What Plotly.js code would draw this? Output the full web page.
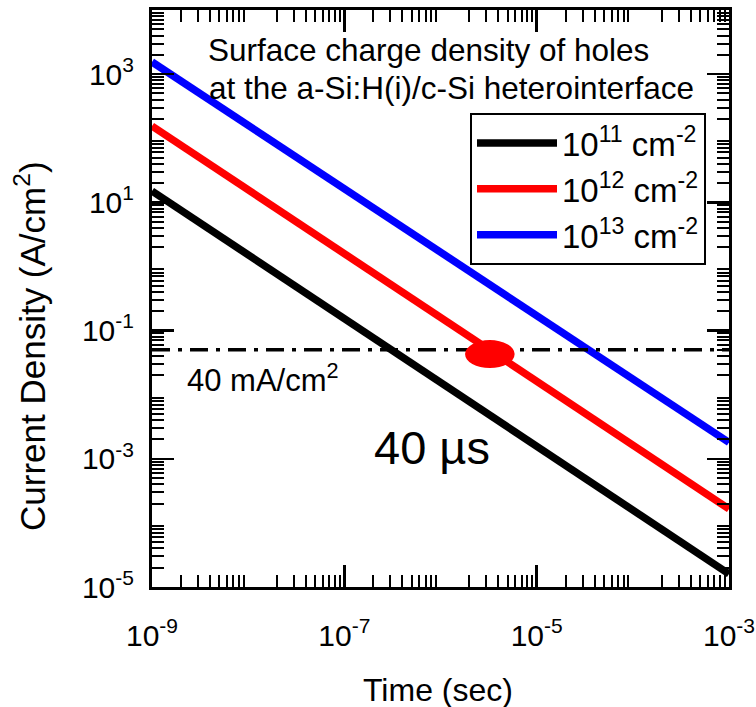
<!DOCTYPE html>
<html>
<head>
<meta charset="utf-8">
<script src="https://cdn.plot.ly/plotly-3.0.1.min.js"></script>
<style>html,body{margin:0;padding:0;background:#fff;}#chart{width:756px;height:707px;}</style>
</head>
<body>
<div id="chart"></div>
<script>
// ---- data ----
const timeSec = [1e-9, 1e-3];
const jHoles1e11 = [15, 1.6e-5];
const jHoles1e12 = [155, 1.65e-4];
const jHoles1e13 = [1550, 1.8e-3];
const seriesNames = ['10<sup>11</sup> cm<sup>-2</sup>', '10<sup>12</sup> cm<sup>-2</sup>', '10<sup>13</sup> cm<sup>-2</sup>'];
const seriesColors = ['#000000', '#ff0000', '#0000ff'];
const thresholdTime = [1e-9, 1e-3];
const thresholdJ = [0.05, 0.05];
const markTimeSpan = [1.8e-6, 5.9e-6];
const markJSpan = [0.026, 0.071];
const xLabelExp = [-9, -7, -5, -3];
const xOtherExp = [-8, -6, -4];
const yLabelExp = [-5, -3, -1, 1, 3];
const yOtherExp = [-4, -2, 0, 2, 4];
const xDecades = [-9, -8, -7, -6, -5, -4, -3];
const yDecades = [-5, -4, -3, -2, -1, 0, 1, 2, 3, 4];

const FONT = 'Liberation Sans, Arial, sans-serif';

const pow10 = exps => exps.map(e => Math.pow(10, e));
const supText = exps => exps.map(e => '10<sup>' + e + '</sup>');
function minorVals(exps) {
  const out = [];
  for (let i = 0; i < exps.length - 1; i++) for (let m = 2; m <= 9; m++) out.push(m * Math.pow(10, exps[i]));
  return out;
}

const allJ = [jHoles1e11, jHoles1e12, jHoles1e13];
const traces = allJ.map((y, i) => ({
  x: timeSec, y: y, type: 'scatter', mode: 'lines', name: seriesNames[i],
  legendgroup: 'g' + i,
  line: {color: seriesColors[i], width: 7.5}
}));
traces.push({
  x: thresholdTime, y: thresholdJ, type: 'scatter', mode: 'lines', showlegend: false,
  line: {color: '#000', width: 3.5, dash: '18px,8px,4px,8px'}
});

function mainAxis(labelExp, decades, range) {
  return {
    type: 'log', range: range, showgrid: false, zeroline: false,
    showline: true, linewidth: 3, linecolor: '#000', mirror: 'allticks',
    ticks: 'inside', ticklen: 22, tickwidth: 2.5, tickcolor: '#000',
    tickmode: 'array', tickvals: pow10(labelExp), ticktext: supText(labelExp),
    tickfont: {family: FONT, size: 30, color: '#000'},
    minor: {tickmode: 'array', tickvals: minorVals(decades), ticks: 'inside', ticklen: 12, tickwidth: 2, tickcolor: '#000', showgrid: false}
  };
}
function overlayAxis(otherExp, range, overlay, anchor, side) {
  return {
    type: 'log', range: range, overlaying: overlay, anchor: anchor, side: side,
    showgrid: false, zeroline: false, showline: false, mirror: 'allticks',
    ticks: 'inside', ticklen: 22, tickwidth: 2.5, tickcolor: '#000',
    tickmode: 'array', tickvals: pow10(otherExp), showticklabels: false
  };
}

const L = 152, R = 729, T = 10, B = 587;
const px = x => (x - L) / (R - L);
const py = y => (B - y) / (B - T);

const xa = mainAxis(xLabelExp, xDecades, [-9, -3]);
xa.ticklabelstandoff = 20;
const ya = mainAxis(yLabelExp, yDecades, [-5, 4]);
ya.ticklabelstandoff = 9;

const layout = {
  width: 756, height: 707,
  margin: {l: L, r: 756 - R, t: T, b: 707 - B},
  paper_bgcolor: '#fff', plot_bgcolor: '#fff',
  font: {family: FONT, color: '#000'},
  xaxis: xa,
  yaxis: ya,
  xaxis2: overlayAxis(xOtherExp, [-9, -3], 'x', 'y', 'bottom'),
  yaxis2: overlayAxis(yOtherExp, [-5, 4], 'y', 'x', 'left'),
  showlegend: true,
  legend: {
    x: px(470), y: py(113), xanchor: 'left', yanchor: 'top',
    bgcolor: '#fff', bordercolor: '#000', borderwidth: 2,
    font: {family: FONT, size: 33, color: '#000'},
    itemwidth: 80, tracegroupgap: 0, traceorder: 'normal'
  },
  shapes: [{
    type: 'circle', xref: 'x', yref: 'y',
    x0: markTimeSpan[0], x1: markTimeSpan[1], y0: markJSpan[0], y1: markJSpan[1],
    fillcolor: '#ff0000', line: {color: '#ff0000', width: 0}, layer: 'above'
  }],
  annotations: [
    {text: 'Surface charge density of holes', xref: 'paper', yref: 'paper', x: px(206), y: py(50), xanchor: 'left', yanchor: 'middle', showarrow: false, font: {family: FONT, size: 31.5}},
    {text: 'at the a-Si:H(i)/c-Si heterointerface', xref: 'paper', yref: 'paper', x: px(207), y: py(88), xanchor: 'left', yanchor: 'middle', showarrow: false, font: {family: FONT, size: 31.5}},
    {text: '40 mA/cm<sup>2</sup>', xref: 'paper', yref: 'paper', x: px(185), y: py(378), xanchor: 'left', yanchor: 'middle', showarrow: false, font: {family: FONT, size: 31}},
    {text: '40 µs', xref: 'paper', yref: 'paper', x: px(372), y: py(447), xanchor: 'left', yanchor: 'middle', showarrow: false, font: {family: FONT, size: 47}},
    {text: 'Time (sec)', xref: 'paper', yref: 'paper', x: px(438), y: py(690), xanchor: 'center', yanchor: 'middle', showarrow: false, font: {family: FONT, size: 32}},
    {text: 'Current Density (A/cm<sup>2</sup>)', xref: 'paper', yref: 'paper', x: px(30), y: py(346), xanchor: 'center', yanchor: 'middle', textangle: -90, showarrow: false, font: {family: FONT, size: 35}}
  ]
};

Plotly.newPlot('chart', traces, layout, {displayModeBar: false, staticPlot: true});
</script>
</body>
</html>
